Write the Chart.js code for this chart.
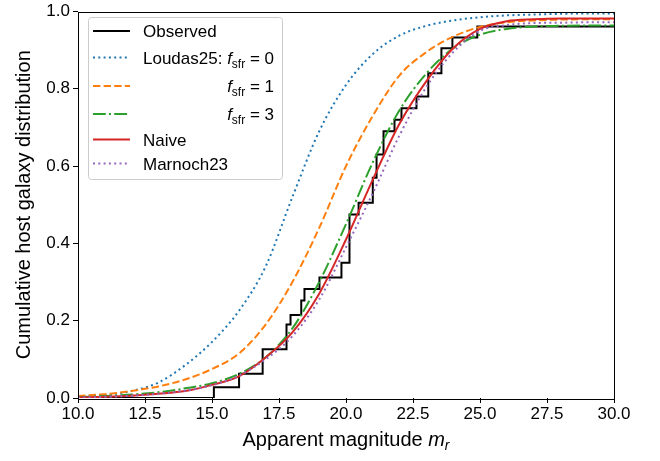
<!DOCTYPE html>
<html>
<head>
<meta charset="utf-8">
<title>Cumulative host galaxy distribution</title>
<script src="https://cdn.jsdelivr.net/npm/chart.js@4.4.1/dist/chart.umd.min.js"></script>
<style>
  html, body { margin: 0; padding: 0; background: #fff; }
  canvas { display: block; }
</style>
</head>
<body>
<canvas id="cdf" width="660" height="461"></canvas>
<script>
// ---- data ----
// magnitude grid shared by the model CDFs
const magGrid   = [10, 11, 12, 13, 14, 15, 16, 17, 18, 19, 20, 21, 22, 23, 24, 25, 26, 27, 28, 29, 30];
const loudasF0  = [0.003, 0.008, 0.018, 0.040, 0.085, 0.145, 0.225, 0.340, 0.520, 0.690, 0.810, 0.890, 0.938, 0.963, 0.977, 0.985, 0.990, 0.992, 0.994, 0.995, 0.995];
const loudasF1  = [0.005, 0.010, 0.018, 0.030, 0.048, 0.075, 0.115, 0.190, 0.300, 0.440, 0.600, 0.730, 0.835, 0.895, 0.935, 0.960, 0.972, 0.977, 0.979, 0.980, 0.980];
const loudasF3  = [0.002, 0.005, 0.009, 0.015, 0.025, 0.038, 0.062, 0.105, 0.180, 0.300, 0.450, 0.610, 0.745, 0.840, 0.905, 0.940, 0.955, 0.961, 0.963, 0.964, 0.964];
const naive     = [0.001, 0.003, 0.006, 0.011, 0.018, 0.034, 0.056, 0.105, 0.170, 0.270, 0.410, 0.565, 0.710, 0.820, 0.905, 0.955, 0.975, 0.980, 0.982, 0.982, 0.982];
const marnoch23 = [0.001, 0.003, 0.006, 0.011, 0.019, 0.033, 0.058, 0.100, 0.160, 0.255, 0.390, 0.530, 0.680, 0.805, 0.895, 0.950, 0.965, 0.970, 0.971, 0.972, 0.972];

// observed hosts: magnitude of each rise and the level reached after it
const obsMag  = [10, 15.07, 16.01, 16.89, 17.78, 17.93, 18.33, 18.45, 19.01, 19.83, 20.13, 20.47, 21.00, 21.14, 21.40, 21.81, 22.07, 22.63, 23.07, 23.56, 23.97, 24.90, 30];
const obsFrac = [0, 0.028, 0.063, 0.126, 0.190, 0.215, 0.252, 0.282, 0.312, 0.350, 0.475, 0.505, 0.570, 0.630, 0.690, 0.720, 0.750, 0.780, 0.840, 0.905, 0.933, 0.961, 0.961];

const xTicks = [10, 12.5, 15, 17.5, 20, 22.5, 25, 27.5, 30];
const yTicks = [0, 0.2, 0.4, 0.6, 0.8, 1.0];

// ---- helpers ----
const FAMILY = '"Liberation Sans", Arial, Helvetica, sans-serif';
const pairs = (xs, ys) => xs.map((x, i) => ({ x, y: ys[i] }));

function curve(label, ys, color, dash) {
  return {
    label, data: pairs(magGrid, ys),
    borderColor: color, borderWidth: 2, borderDash: dash,
    borderCapStyle: 'butt', cubicInterpolationMode: 'monotone',
    pointRadius: 0, fill: false
  };
}

// draw a run of text pieces (plain / italic / subscript) left to right
function richText(ctx, parts, x, y, align) {
  const fontOf = p => `${p.italic ? 'italic ' : ''}${p.size}px ${FAMILY}`;
  const widths = parts.map(p => { ctx.font = fontOf(p); return ctx.measureText(p.text).width; });
  const total = widths.reduce((a, b) => a + b, 0);
  let cx = align === 'right' ? x - total : align === 'center' ? x - total / 2 : x;
  parts.forEach((p, i) => {
    ctx.font = fontOf(p);
    ctx.fillText(p.text, cx, y + (p.dy || 0));
    cx += widths[i];
  });
  return total;
}

const fsfr = v => [
  { text: 'f', size: 17, italic: true },
  { text: 'sfr', size: 12, dy: 4 },
  { text: ' = ' + v, size: 17 }
];

// legend text for each dataset, in dataset order
const legendText = [
  [{ text: 'Observed', size: 17 }],
  [{ text: 'Loudas25: ', size: 17 }].concat(fsfr(0)),
  fsfr(1),
  fsfr(3),
  [{ text: 'Naive', size: 17 }],
  [{ text: 'Marnoch23', size: 17 }]
];

// frame, axis titles and legend box
const decorations = {
  id: 'decorations',
  afterDatasetsDraw(chart) {
    const { ctx, chartArea: a } = chart;
    ctx.save();
    ctx.strokeStyle = '#000';
    ctx.lineWidth = 1;
    ctx.strokeRect(Math.round(a.left) + 0.5, Math.round(a.top) + 0.5,
                   Math.round(a.right - a.left), Math.round(a.bottom - a.top));
    ctx.restore();
  },
  afterDraw(chart) {
    const { ctx, chartArea: a } = chart;
    ctx.save();
    ctx.fillStyle = '#000';
    ctx.textBaseline = 'alphabetic';

    // x title
    richText(ctx, [
      { text: 'Apparent magnitude ', size: 20 },
      { text: 'm', size: 20, italic: true },
      { text: 'r', size: 14, italic: true, dy: 4 }
    ], (a.left + a.right) / 2, 446, 'center');

    // y title
    ctx.save();
    ctx.translate(24, (a.top + a.bottom) / 2);
    ctx.rotate(-Math.PI / 2);
    ctx.textAlign = 'center';
    ctx.textBaseline = 'middle';
    ctx.font = `20px ${FAMILY}`;
    ctx.fillText('Cumulative host galaxy distribution', 0, 0);
    ctx.restore();

    // legend
    const rowY = [31, 57.5, 86, 114, 139.5, 163.5];
    const box = { x: 88.5, y: 17.5, w: 194, h: 162 };
    ctx.beginPath();
    ctx.roundRect(box.x, box.y, box.w, box.h, 3);
    ctx.fillStyle = 'rgba(255,255,255,0.8)';
    ctx.fill();
    ctx.strokeStyle = '#cccccc';
    ctx.lineWidth = 1;
    ctx.stroke();

    const textLeft = 143;
    ctx.fillStyle = '#000';
    ctx.textAlign = 'left';
    ctx.textBaseline = 'alphabetic';
    let rightEdge = 0;
    chart.data.datasets.forEach((ds, i) => {
      const y = rowY[i];
      ctx.save();
      ctx.strokeStyle = ds.borderColor;
      ctx.lineWidth = ds.borderWidth;
      ctx.setLineDash(ds.borderDash || []);
      ctx.lineCap = 'butt';
      ctx.beginPath();
      ctx.moveTo(93, y);
      ctx.lineTo(130, y);
      ctx.stroke();
      ctx.restore();
      const parts = legendText[i];
      if (i === 2 || i === 3) {
        richText(ctx, parts, rightEdge, y + 6, 'right');
      } else {
        const w = richText(ctx, parts, textLeft, y + 6, 'left');
        if (i === 1) rightEdge = textLeft + w;
      }
    });
    ctx.restore();
  }
};

new Chart(document.getElementById('cdf'), {
  type: 'line',
  data: {
    datasets: [
      {
        label: 'Observed', data: pairs(obsMag, obsFrac),
        borderColor: '#000000', borderWidth: 2, borderDash: [],
        stepped: 'before', pointRadius: 0, fill: false, order: 6
      },
      Object.assign(curve('Loudas25: f_sfr = 0', loudasF0, '#1f77b4', [2, 3.3]), { order: 5 }),
      Object.assign(curve('f_sfr = 1', loudasF1, '#ff7f0e', [7.4, 3.2]), { order: 4 }),
      Object.assign(curve('f_sfr = 3', loudasF3, '#2ca02c', [12.8, 3.2, 2, 3.2]), { order: 3 }),
      Object.assign(curve('Naive', naive, '#d62728', []), { order: 2 }),
      Object.assign(curve('Marnoch23', marnoch23, '#9467bd', [2, 3.3]), { order: 1 })
    ]
  },
  options: {
    responsive: false,
    animation: false,
    layout: { padding: { left: 0, right: 46, top: 9, bottom: 0 } },
    plugins: { legend: { display: false }, tooltip: { enabled: false } },
    scales: {
      x: {
        type: 'linear', min: 10, max: 30,
        afterBuildTicks: s => { s.ticks = xTicks.map(v => ({ value: v })); },
        afterFit: s => { s.height = 63; },
        ticks: {
          color: '#000', padding: 1, maxRotation: 0, autoSkip: false,
          font: { family: FAMILY, size: 17 },
          callback: v => Number(v).toFixed(1)
        },
        grid: { drawOnChartArea: false, drawTicks: true, tickLength: 5, tickColor: '#000', tickWidth: 1 },
        border: { display: false }
      },
      y: {
        type: 'linear', min: 0, max: 1,
        afterBuildTicks: s => { s.ticks = yTicks.map(v => ({ value: v })); },
        afterFit: s => { s.width = 78; },
        ticks: {
          color: '#000', padding: 3,
          font: { family: FAMILY, size: 17, lineHeight: 1 },
          callback: v => Number(v).toFixed(1)
        },
        grid: { drawOnChartArea: false, drawTicks: true, tickLength: 5, tickColor: '#000', tickWidth: 1 },
        border: { display: false }
      }
    }
  },
  plugins: [decorations]
});
</script>
</body>
</html>
